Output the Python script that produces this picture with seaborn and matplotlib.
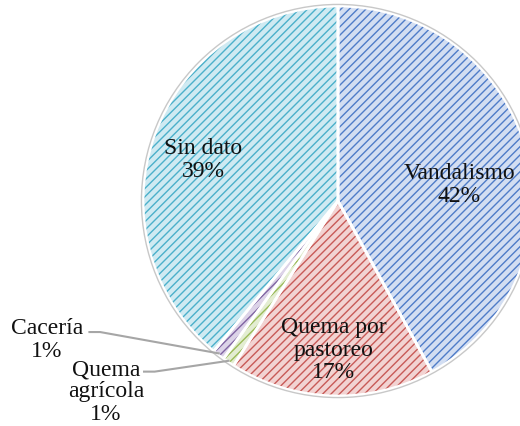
import numpy as np
import matplotlib
matplotlib.use("Agg")
import matplotlib.pyplot as plt
import seaborn as sns
from matplotlib.patches import Circle

# datos del grafico
categorias = ["Vandalismo", "Quema por\npastoreo", "Quema\nagrícola", "Cacería", "Sin dato"]
porcentajes = [42, 17, 1, 1, 39]
colores_linea = ["#4F7CC8", "#C85A57", "#9BBB59", "#8064A2", "#4BB0CA"]
colores_fondo = ["#D3DEF2", "#F2D3D2", "#E3EDD2", "#DCD3E8", "#CFEAF2"]

sns.set_theme(style="white")
plt.rcParams["font.family"] = ["Liberation Serif", "DejaVu Serif"]
plt.rcParams["hatch.linewidth"] = 1.0

fig = plt.figure(figsize=(5.2, 4.27), dpi=100)
ax = fig.add_axes([0, 0, 1, 1])

# pie con rayado
wedges, _ = ax.pie(porcentajes, startangle=90, counterclock=False,
                   colors=colores_fondo,
                   wedgeprops=dict(linewidth=0, hatch="////"))
for w, c in zip(wedges, colores_linea):
    w.set_edgecolor(c)
    w.set_linewidth(0)

# bordes blancos entre rebanadas
ax.pie(porcentajes, startangle=90, counterclock=False,
       wedgeprops=dict(fill=False, edgecolor="white", linewidth=2))
ax.add_patch(Circle((0, 0), 1.008, fill=False, edgecolor="#C8C8C8", linewidth=1))

# etiquetas (posiciones en coords del pie)
pos_etiquetas = [(0.621, 0.087), (-0.021, -0.759), (-1.19, -0.974), (-1.492, -0.708), (-0.692, 0.215)]
for cat, p, (x, y) in zip(categorias, porcentajes, pos_etiquetas):
    ax.text(x, y, f"{cat}\n{p}%", ha="center", va="center", fontsize=17,
            color="#111111", linespacing=1.08)

# lineas guia para las rebanadas chicas
inicio_lineas = {3: (-1.28, -0.672), 2: (-1.0, -0.875)}
for i, (x0, y0) in inicio_lineas.items():
    w = wedges[i]
    ang = np.deg2rad((w.theta1 + w.theta2) / 2)
    x1, y1 = 0.99 * np.cos(ang), 0.99 * np.sin(ang)
    ax.plot([x0, x0 + 0.06, x1], [y0, y0, y1], color="#A6A6A6", linewidth=1.5,
            solid_capstyle="butt")

ax.set_aspect("auto")
ax.set_xlim(-338 / 195, (520 - 338) / 195)
ax.set_ylim(-(427 - 202) / 195, 202 / 195)
ax.axis("off")

fig.savefig("out.png", dpi=100)
